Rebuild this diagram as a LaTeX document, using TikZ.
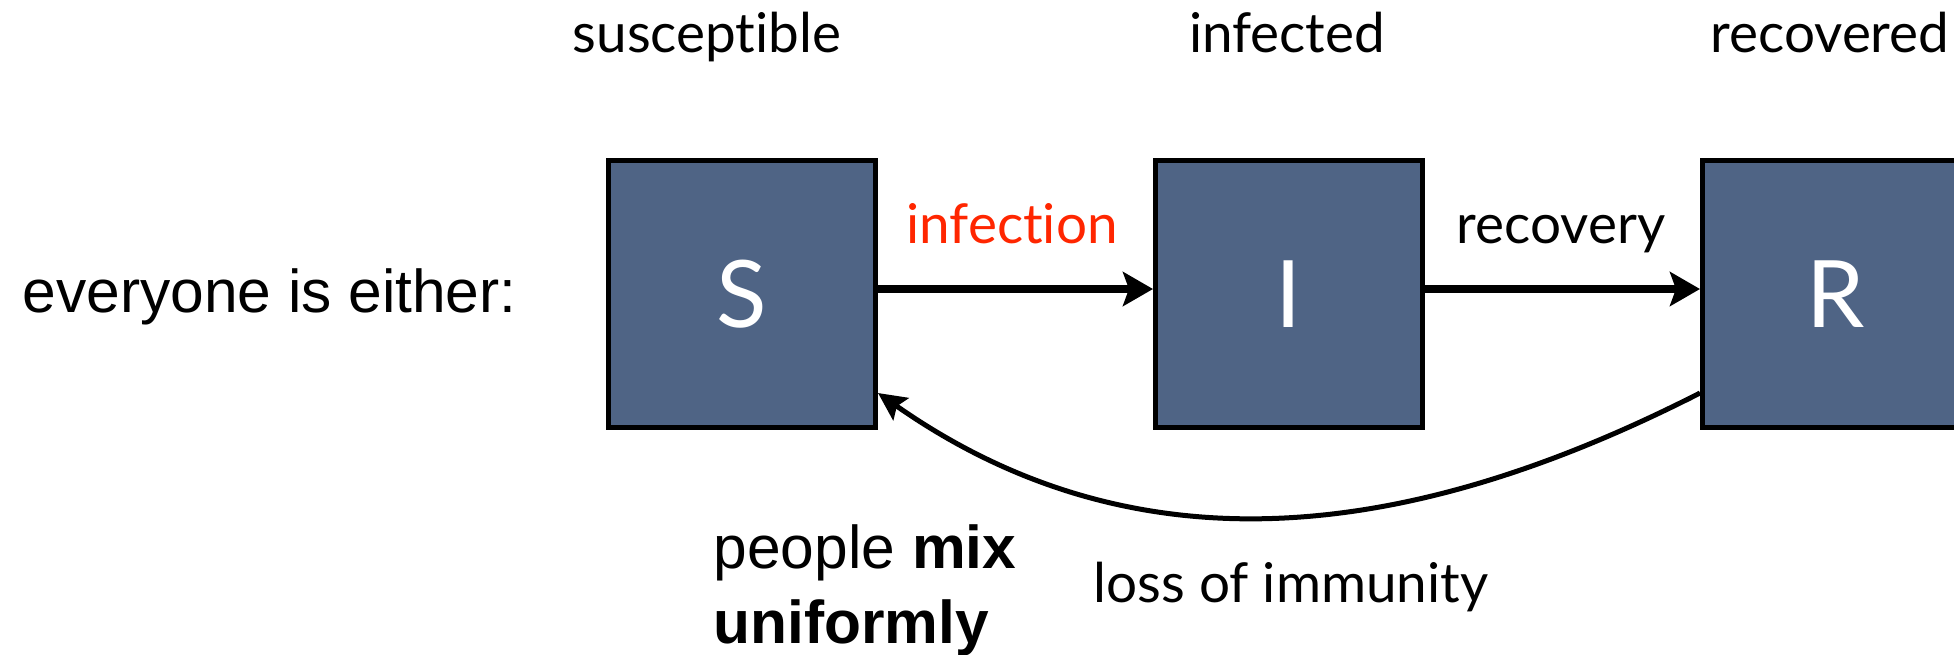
\documentclass[tikz,border=0pt]{standalone}
\usepackage{fontspec}
\setmainfont{Lato}[Ligatures=NoCommon]
\newfontfamily\helv{Liberation Sans}
\usetikzlibrary{positioning,arrows.meta}
\definecolor{boxblue}{RGB}{79,100,133}
\definecolor{infred}{RGB}{255,38,0}
\begin{document}
\begin{tikzpicture}[
 state/.style={draw=black,line width=0.05cm,fill=boxblue,minimum size=2.67cm,inner sep=0pt,text=white,font=\fontsize{26.5}{31}\selectfont},
 lab/.style={anchor=base,inner sep=0pt,font=\fontsize{15.6}{19}\selectfont},
 note/.style={anchor=base west,inner sep=0pt,font=\helv\fontsize{17.2}{21}\selectfont},
 flow/.style={line width=0.075cm,-{Stealth[length=0.3cm,width=0.34cm,inset=0.06cm]}},
 node distance=2.75cm]
\useasboundingbox(0,0)rectangle(19.54,-6.54);
\clip(0,0)rectangle(19.54,-6.54);
%compartments
\node[state](S)at(7.42,-2.94){S};
\node[state,right=of S](I){I};
\node[state,right=of I](R){R};
%labels
\node[lab](sus)at(7.07,-0.52){susceptible};
\node[lab](inf)at(12.87,-0.52){infected};
\node[lab](rec)at(18.30,-0.52){recovered};
\node[note](every)at(0.22,-3.12){everyone is either:};
\node[note](mix1)at(7.13,-5.68){people \textbf{mix}};
\node[note](mix2)at(7.13,-6.43){\textbf{uniformly}};
%flows
\draw[flow]([yshift=0.05cm]S.east)--([yshift=0.05cm]I.west);
\draw[flow]([yshift=0.05cm]I.east)--([yshift=0.05cm]R.west);
\node[lab,text=infred](infection)at(10.12,-2.43){infection};
\node[lab](recovery)at(15.61,-2.43){recovery};
\draw[line width=0.05cm,-{Stealth[length=0.28cm,width=0.27cm,inset=0.05cm]}]([yshift=-0.99cm]R.west)to[out=-153,in=-35]([yshift=-0.99cm]S.east);
\node[lab](loss)at(12.91,-6.02){loss of immunity};
\end{tikzpicture}
\end{document}
